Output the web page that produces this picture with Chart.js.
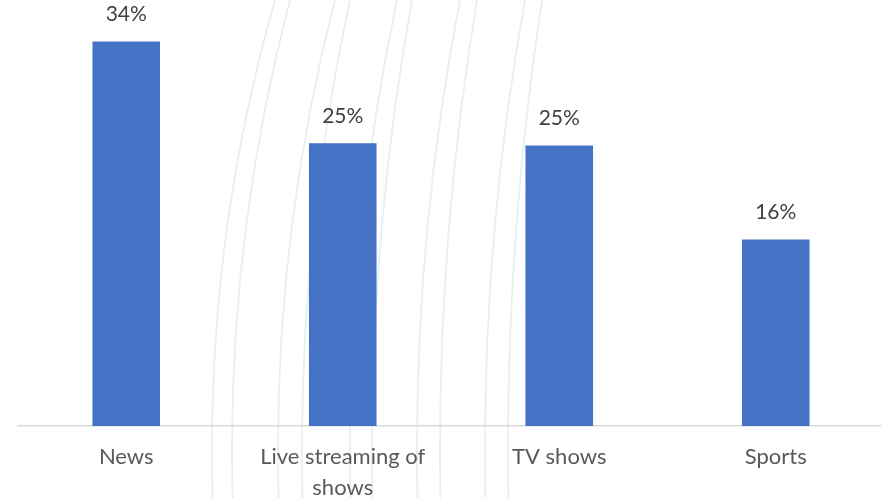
<!DOCTYPE html>
<html>
<head>
<meta charset="utf-8">
<script src="https://cdn.jsdelivr.net/npm/chart.js@4"></script>
<style>
  html, body { margin: 0; padding: 0; background: #fff; overflow: hidden; }
  #wrap { width: 884px; height: 498px; }
</style>
</head>
<body>
<div id="wrap"><canvas id="barChart"></canvas></div>
<script>
// datos
const categorias = ['News', ['Live streaming of', 'shows'], 'TV shows', 'Sports'];
const valores = [33.6, 24.7, 24.5, 16.3];
const yMin = 0;
const yMax = 36;

// lineas decorativas del fondo (x abajo, x arriba)
const curvas = [[212, 275], [232, 290], [278, 335], [302, 350], [350, 397],
                [372, 412], [417, 460], [440, 477], [485, 525], [508, 542]];

const fuente = 'Lato, "Open Sans", sans-serif';

const fondo = {
  id: 'fondo',
  beforeDraw(chart) {
    const ctx = chart.ctx;
    ctx.save();
    ctx.strokeStyle = '#e2f2f2';
    ctx.lineWidth = 1.8;
    const cy = 450;
    curvas.forEach(([xb, xt]) => {
      const d = xt - xb;
      const r = (cy * cy + d * d) / (2 * d);
      const cx = xb + r;
      ctx.beginPath();
      ctx.arc(cx, cy, r, Math.PI + Math.asin(cy / r), Math.PI + Math.asin((cy - 500) / r), true);
      ctx.stroke();
    });
    ctx.restore();
  }
};

const etiquetas = {
  id: 'etiquetas',
  afterDatasetsDraw(chart) {
    const ctx = chart.ctx;
    const meta = chart.getDatasetMeta(0);
    ctx.save();
    ctx.fillStyle = '#404040';
    ctx.font = '21px ' + fuente;
    ctx.textAlign = 'center';
    ctx.textBaseline = 'middle';
    meta.data.forEach((bar, i) => {
      ctx.fillText(Math.round(valores[i]) + '%', bar.x, bar.y - 27);
    });
    ctx.restore();
  }
};

new Chart(document.getElementById('barChart').getContext('2d'), {
  type: 'bar',
  data: {
    labels: categorias,
    datasets: [{
      data: valores,
      backgroundColor: '#4472C4',
      barPercentage: 0.312,
      categoryPercentage: 1
    }]
  },
  options: {
    responsive: true,
    maintainAspectRatio: false,
    animation: false,
    layout: { padding: { left: 18, right: 0, top: 14, bottom: 0 } },
    plugins: {
      legend: { display: false },
      tooltip: { enabled: false }
    },
    scales: {
      x: {
        grid: { display: false, drawTicks: false },
        border: { display: true, color: '#d9d9d9', width: 1.5 },
        ticks: {
          color: '#595959',
          font: { family: fuente, size: 22, lineHeight: 1.41 },
          padding: 15,
          maxRotation: 0,
          autoSkip: false
        },
        afterFit(scale) { scale.height = 72; }
      },
      y: {
        display: false,
        min: yMin,
        max: yMax
      }
    }
  },
  plugins: [fondo, etiquetas]
});
</script>
</body>
</html>
